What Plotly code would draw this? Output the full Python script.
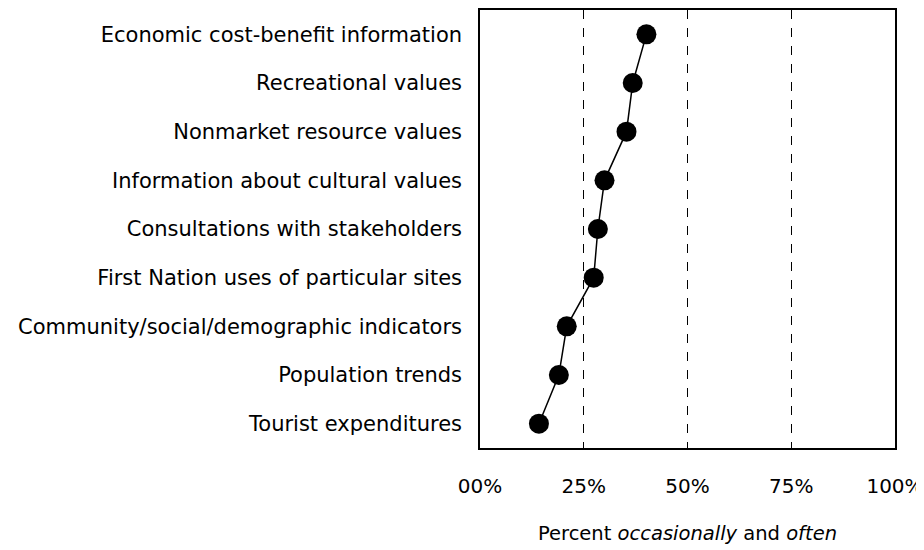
import plotly.graph_objects as go

# Categories listed top to bottom as in the chart
categories = [
    "Economic cost-benefit information",
    "Recreational values",
    "Nonmarket resource values",
    "Information about cultural values",
    "Consultations with stakeholders",
    "First Nation uses of particular sites",
    "Community/social/demographic indicators",
    "Population trends",
    "Tourist expenditures",
]
percent_used = [40.1, 36.8, 35.3, 30.0, 28.4, 27.4, 20.9, 19.0, 14.2]

tick_vals = [0, 25, 50, 75, 100]
tick_text = ["00%", "25%", "50%", "75%", "100%"]

FONT = "DejaVu Sans, Arial, sans-serif"

fig = go.Figure()
fig.add_trace(go.Scatter(
    x=percent_used,
    y=categories,
    mode="lines+markers",
    line=dict(color="black", width=1.5),
    marker=dict(color="black", size=20),
    showlegend=False,
))

# page body has an 8px margin, so the figure is sized to fit inside it
fig.update_layout(
    width=916, height=542,
    margin=dict(l=472, r=28, t=0, b=102),
    paper_bgcolor="white",
    plot_bgcolor="white",
    font=dict(family=FONT, size=18, color="black"),
    xaxis=dict(
        range=[0, 100],
        tickvals=tick_vals,
        ticktext=tick_text,
        tickfont=dict(size=20),
        ticklabeloverflow="allow",
        showgrid=True,
        gridcolor="black",
        gridwidth=1,
        griddash="dash",
        zeroline=False,
        showline=True,
        linecolor="black",
        linewidth=1.5,
        mirror=True,
        ticks="",
        ticklabelstandoff=19,
        title=dict(
            text="Percent <i>occasionally</i> and <i>often</i>",
            font=dict(size=19.5),
            standoff=30,
        ),
    ),
    yaxis=dict(
        categoryorder="array",
        categoryarray=categories[::-1],
        range=[-0.5, 8.5],
        tickfont=dict(size=21),
        showgrid=False,
        zeroline=False,
        showline=True,
        linecolor="black",
        linewidth=1.5,
        mirror=True,
        ticks="",
        ticklabelstandoff=12,
    ),
)

fig.write_html("out.html")
